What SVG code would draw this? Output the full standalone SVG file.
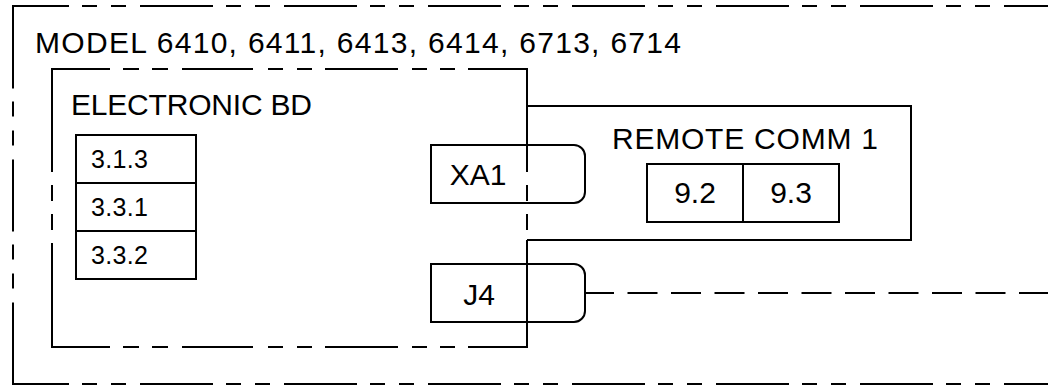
<svg xmlns="http://www.w3.org/2000/svg" width="1048" height="386" viewBox="0 0 1048 386">
<style>
.ln{fill:none;stroke:#000;stroke-width:2}
.outer{fill:none;stroke:#000;stroke-width:2;stroke-dasharray:73 13 15 14 15 14;stroke-dashoffset:17}
.box{fill:#fff;stroke:#000;stroke-width:2}
.conn{fill:none;stroke:#000;stroke-width:2;stroke-dasharray:30 13.5;stroke-dashoffset:1}
text{font-family:"Liberation Sans",Arial,sans-serif;fill:#000}
.big{font-size:30px}
.small{font-size:25px}
</style>
<rect width="1048" height="386" fill="#fff"/>
<g id="model">
<line class="outer" x1="13" y1="6" x2="1070" y2="6"/>
<line class="outer" x1="13" y1="384" x2="1070" y2="384"/>
<path class="ln" d="M13,5 V88.5 M13,101.5 V116.5 M13,130.5 V145.5 M13,159.5 V231.5 M13,244.5 V259.5 M13,273.5 V288.5 M13,302.5 V385"/>
<text class="big" x="35" y="53" textLength="646" lengthAdjust="spacing">MODEL 6410, 6411, 6413, 6414, 6713, 6714</text>
</g>
<g id="remote-comm">
<path class="ln" d="M527,106 H911 V240 H527"/>
<text class="big" x="612" y="149" textLength="266" lengthAdjust="spacing">REMOTE COMM 1</text>
<rect class="box" x="647" y="164" width="96" height="58"/>
<rect class="box" x="743" y="164" width="96" height="58"/>
<text class="big" x="695" y="203" text-anchor="middle">9.2</text>
<text class="big" x="791" y="203" text-anchor="middle">9.3</text>
</g>
<g id="xa1">
<path class="ln" d="M431,145 H574 A11,11 0 0 1 585,156 V192 A11,11 0 0 1 574,203 H431 Z"/>
<text class="big" x="478" y="185" text-anchor="middle">XA1</text>
</g>
<g id="j4">
<path class="ln" d="M431,264 H574 A11,11 0 0 1 585,275 V311 A11,11 0 0 1 574,322 H431 Z"/>
<text class="big" x="479" y="305" text-anchor="middle">J4</text>
</g>
<g id="electronic-bd">
<path class="ln" d="M51,69 H110 M123,69 H139 M152,69 H168 M182,69 H253 M268,69 H283 M297,69 H312 M325,69 H398 M412,69 H427 M440,69 H455 M468,69 H528"/>
<path class="ln" d="M51,347 H110 M123,347 H139 M152,347 H168 M182,347 H253 M268,347 H283 M297,347 H312 M325,347 H398 M412,347 H427 M440,347 H455 M468,347 H528"/>
<path class="ln" d="M52,68 V172 M52,185 V201 M52,214 V230 M52,243 V348"/>
<path class="ln" d="M527,68 V172 M527,185 V201 M527,214 V230 M527,240 V348"/>
<text class="big" x="71" y="115" textLength="241" lengthAdjust="spacing">ELECTRONIC BD</text>
<rect class="box" x="76" y="135" width="120" height="48"/>
<rect class="box" x="76" y="183" width="120" height="48"/>
<rect class="box" x="76" y="231" width="120" height="48"/>
<text class="small" x="91" y="168" textLength="57" lengthAdjust="spacing">3.1.3</text>
<text class="small" x="91" y="216" textLength="57" lengthAdjust="spacing">3.3.1</text>
<text class="small" x="91" y="264" textLength="57" lengthAdjust="spacing">3.3.2</text>
</g>
<g id="connectors">
<line class="conn" x1="585" y1="293" x2="1060" y2="293"/>
</g>
</svg>
